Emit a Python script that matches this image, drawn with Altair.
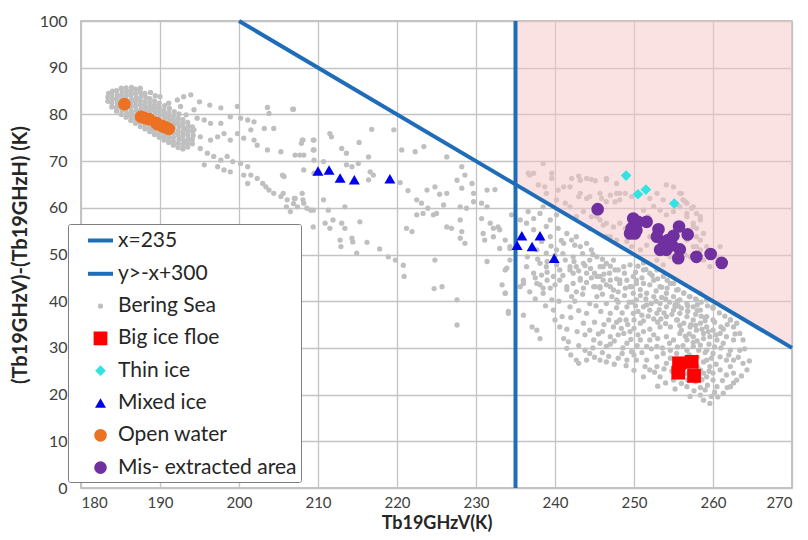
import altair as alt
import pandas as pd

# ---------------- data ----------------
series_order = ["x=235", "y>-x+300", "Bering Sea", "Big ice floe", "Thin ice",
                "Mixed ice", "Open water", "Mis- extracted area"]
series_colors = ["#1f6cb8", "#1f6cb8", "#bfbfbf", "#ff0000", "#33e3e3",
                 "#0000f0", "#ec7122", "#7030a0"]
LINE_SYMBOL = "M-1,-0.16H1V0.16H-1Z"
series_shapes = [LINE_SYMBOL, LINE_SYMBOL, "circle", "square", "diamond",
                 "triangle-up", "circle", "circle"]
series_sizes = [625, 625, 28, 190, 115, 120, 160, 160]

threshold_x = 235       # x = 235
line_intercept = 300    # y = -x + 300

x_ticks = [180, 190, 200, 210, 220, 230, 240, 250, 260, 270]
y_ticks = [0, 10, 20, 30, 40, 50, 60, 70, 80, 90, 100]

open_water = [(185.5, 82.2), (187.6, 79.5), (188.1, 79.2), (188.6, 79.0), (189.5, 78.2),
              (189.7, 77.9), (190.3, 77.5), (190.6, 77.3), (191.1, 76.9)]

mixed_ice = [(210.0, 67.9), (211.4, 68.1), (212.8, 66.4), (214.6, 66.0), (219.1, 66.2),
             (235.8, 54.0), (238.1, 54.0), (235.2, 52.0), (237.1, 51.7), (239.9, 49.2)]

thin_ice = [(249.0, 66.9), (250.5, 62.9), (251.5, 63.9), (255.1, 60.9)]

big_ice_floe = [(255.7, 26.7), (257.3, 27.0), (255.6, 24.7), (257.6, 24.0)]

mis_extracted = [(245.4, 59.7), (249.9, 57.7), (250.5, 57.0), (251.6, 57.0), (249.7, 55.6),
                 (250.3, 55.2), (249.5, 54.5), (250.1, 54.5), (253.1, 55.4), (252.9, 53.8),
                 (255.7, 56.0), (256.8, 54.3), (255.0, 54.0), (254.3, 53.1), (253.7, 51.7),
                 (254.1, 51.0), (254.8, 52.0), (255.8, 51.1), (255.6, 49.2), (257.9, 49.5),
                 (259.7, 50.1), (261.1, 48.2), (253.3, 51.0)]

bering_blob = [
    (183.4, 82.8), (183.4, 83.7), (183.5, 84.5),
    (183.9, 81.6), (183.9, 82.5), (184.0, 83.4), (183.9, 84.3), (184.0, 85.0),
    (184.5, 80.7), (184.5, 81.5), (184.6, 82.4), (184.5, 83.3), (184.6, 84.1), (184.5, 85.1),
    (185.1, 80.0), (185.2, 80.9), (185.1, 81.5), (185.1, 83.0), (185.1, 83.9), (185.2, 84.8), (185.1, 85.6),
    (185.7, 79.4), (185.8, 80.2), (185.7, 81.0), (185.7, 83.2), (185.7, 84.0), (185.8, 84.9), (185.7, 85.7),
    (186.3, 78.7), (186.3, 79.6), (186.4, 80.6), (186.3, 81.4), (186.3, 82.3), (186.4, 83.2), (186.3, 84.1),
    (186.3, 85.0), (186.4, 85.8),
    (186.9, 78.1), (186.9, 79.0), (186.9, 79.9), (187.0, 80.9), (186.9, 81.8), (186.9, 82.7), (187.0, 83.6),
    (186.9, 84.5), (186.9, 85.4),
    (187.5, 77.4), (187.5, 78.3), (187.5, 80.4), (187.6, 81.2), (187.5, 82.1), (187.5, 83.0), (187.6, 83.9),
    (187.5, 84.8), (187.5, 85.6),
    (188.1, 76.9), (188.1, 77.6), (188.1, 78.4), (188.1, 80.0), (188.2, 80.9), (188.1, 81.8), (188.1, 82.7),
    (188.2, 83.6), (188.1, 84.5),
    (188.7, 76.3), (188.7, 77.1), (188.7, 77.9), (188.7, 79.8), (188.8, 80.8), (188.7, 81.6), (188.7, 82.5),
    (188.7, 83.4), (188.8, 84.7),
    (189.3, 75.7), (189.3, 76.5), (189.3, 77.3), (189.3, 79.4), (189.4, 80.3), (189.3, 81.2), (189.3, 82.0),
    (189.3, 82.9), (189.4, 84.0),
    (189.9, 75.1), (189.9, 75.9), (189.9, 76.7), (189.9, 78.9), (190.0, 79.8), (189.9, 80.6), (189.9, 81.5),
    (189.9, 82.4), (190.0, 83.8),
    (190.5, 74.5), (190.5, 75.4), (190.5, 76.2), (190.5, 78.4), (190.6, 79.2), (190.5, 80.1), (190.5, 80.9),
    (190.6, 81.9),
    (191.1, 74.0), (191.1, 74.8), (191.1, 75.6), (191.1, 77.8), (191.2, 78.6), (191.1, 79.5), (191.1, 80.4),
    (191.2, 81.3), (191.1, 82.4),
    (191.7, 73.4), (191.7, 74.2), (191.7, 75.1), (191.7, 76.0), (191.7, 77.0), (191.8, 77.9), (191.7, 78.8),
    (191.7, 79.7), (191.8, 80.6),
    (192.3, 72.9), (192.3, 73.8), (192.4, 74.7), (192.3, 75.6), (192.3, 76.5), (192.4, 77.4), (192.3, 78.3),
    (192.3, 79.2), (192.4, 80.1),
    (192.9, 72.6), (192.9, 73.5), (193.0, 74.4), (192.9, 75.3), (192.9, 76.2), (193.0, 77.1), (192.9, 78.0),
    (192.9, 78.9),
    (193.5, 73.0), (193.5, 73.9), (193.6, 74.8), (193.5, 75.7), (193.5, 76.6), (193.6, 77.5), (193.5, 78.3),
    (194.1, 73.7), (194.1, 74.6), (194.2, 75.5), (194.1, 76.4), (194.1, 77.3),
]

bering_trail = [
    (193.0, 83.8), (193.9, 84.2), (195.0, 82.7), (196.3, 82.0), (197.7, 81.4), (199.8, 81.7), (203.6, 81.5),
    (203.8, 80.2), (206.8, 81.1), (192.6, 81.7), (194.3, 81.0), (192.2, 83.1), (193.3, 79.9), (194.7, 79.2),
    (195.6, 78.8), (196.4, 78.1), (197.7, 78.1), (198.9, 79.5), (200.2, 79.2), (201.1, 78.8), (201.9, 78.4),
    (203.2, 77.0), (204.4, 77.0), (194.3, 76.7), (195.1, 75.2), (196.4, 74.5), (197.3, 75.2), (198.1, 75.9),
    (198.9, 74.5), (199.8, 75.9), (200.6, 74.9), (201.5, 76.7), (201.9, 74.5), (202.3, 73.4), (203.6, 72.4),
    (205.3, 72.0), (195.1, 72.7), (196.0, 71.7), (196.8, 71.0), (197.7, 70.2), (198.5, 71.0), (199.2, 69.9),
    (200.2, 69.5), (201.1, 68.8), (201.5, 67.0), (195.6, 69.2), (197.3, 68.8), (198.1, 68.1), (198.9, 67.7),
    (200.6, 67.0), (201.1, 65.2), (202.3, 66.3), (203.0, 65.2), (203.4, 64.5), (203.8, 63.8), (204.4, 63.1),
    (205.3, 62.4), (206.1, 61.7), (207.0, 62.0), (205.7, 66.7), (207.4, 60.2), (208.2, 61.0), (209.1, 59.5),
    (206.5, 59.2), (208.0, 74.5), (209.5, 74.5), (209.5, 72.4), (208.2, 71.3), (209.5, 70.2), (208.2, 68.1),
    (209.5, 67.4), (205.5, 67.0), (208.0, 63.1),
]

bering_middle = [
    (206.9, 81.1), (216.8, 76.8), (219.6, 76.7), (211.5, 75.9), (211.7, 75.2), (208.1, 74.5), (207.9, 73.8),
    (209.4, 74.5), (215.2, 74.0), (213.0, 72.7), (209.4, 72.4), (213.6, 71.7), (216.4, 70.9), (220.6, 72.4),
    (222.3, 72.0), (223.4, 73.1), (226.3, 70.9), (228.2, 68.8), (228.6, 67.0), (227.6, 65.9), (228.2, 64.2),
    (229.5, 65.2), (229.7, 63.1), (231.4, 63.8), (232.4, 63.9), (207.7, 71.3), (207.1, 71.3), (210.7, 69.9),
    (213.6, 69.2), (215.1, 69.5), (214.3, 68.8), (216.6, 67.7), (216.4, 66.0), (217.0, 67.0), (220.4, 65.4),
    (221.4, 63.7), (223.8, 63.8), (224.8, 64.5), (225.4, 62.9), (226.3, 63.1), (222.5, 61.7), (223.1, 61.0),
    (223.9, 59.9), (222.5, 58.5), (223.3, 58.8), (224.6, 58.5), (225.0, 58.8), (225.9, 60.6), (228.0, 60.2),
    (228.8, 59.9), (226.3, 55.9), (226.9, 55.6), (228.0, 57.4), (228.2, 54.9), (228.0, 53.5), (228.6, 52.4),
    (229.7, 61.3), (230.7, 61.0), (231.4, 60.2), (230.7, 57.7), (231.8, 56.7), (232.2, 55.6), (232.8, 55.9),
    (230.9, 54.5), (231.1, 53.1), (232.2, 53.8), (233.0, 51.3), (234.3, 51.7), (234.5, 58.5), (234.3, 48.8),
    (231.4, 48.5), (233.9, 47.1), (233.3, 43.5), (233.7, 41.7), (234.1, 37.4), (227.6, 40.3), (227.6, 34.9),
    (224.7, 42.7), (225.7, 43.1), (220.8, 47.7), (220.9, 45.3), (219.8, 48.8), (218.9, 49.5), (217.8, 51.2),
    (216.2, 52.6), (214.4, 52.7), (214.3, 53.5), (212.9, 51.7), (212.8, 53.1), (214.9, 50.3), (211.5, 55.6),
    (210.9, 56.7), (211.9, 57.4), (213.0, 56.7), (213.4, 55.6), (209.4, 55.9), (210.7, 61.7), (211.3, 59.5),
    (209.4, 59.5), (208.6, 59.9), (208.1, 61.7), (207.1, 62.0), (206.9, 60.9), (205.6, 63.1), (206.0, 60.2),
    (213.4, 60.2), (215.3, 57.0), (224.8, 48.8), (221.2, 55.6), (221.9, 54.9),
]

bering_pink = [
    (238.5, 69.5), (236.6, 67.4), (237.3, 67.4), (239.6, 66.3), (242.1, 66.3), (243.2, 65.9), (244.0, 66.3),
    (244.6, 66.1), (246.5, 66.0), (237.9, 64.9), (238.7, 64.5), (240.4, 63.8), (241.9, 64.5), (241.3, 61.0),
    (243.0, 62.4), (244.0, 62.0), (245.7, 63.1), (247.0, 62.7), (247.8, 63.1), (248.9, 63.1), (246.5, 61.3),
    (247.6, 61.3), (248.2, 61.7), (243.6, 59.2), (244.6, 58.1), (245.7, 57.4), (246.5, 56.7), (247.4, 55.9),
    (248.2, 56.7), (248.9, 55.6), (247.0, 53.8), (247.8, 53.1), (249.1, 52.8), (249.7, 51.7), (250.8, 51.0),
    (251.6, 52.0), (252.5, 60.3), (253.3, 59.5), (254.1, 58.5), (255.0, 59.2), (255.8, 60.2), (256.7, 61.0),
    (257.3, 59.9), (257.9, 58.8), (258.4, 57.4), (257.5, 56.7), (256.7, 58.1), (256.0, 63.1), (256.5, 61.3),
    (252.9, 63.1), (253.7, 61.7), (252.0, 62.0), (251.2, 59.5), (251.8, 58.1), (252.0, 53.8), (252.9, 48.8),
    (253.7, 47.8), (254.6, 49.5), (256.5, 49.9), (258.4, 53.1), (259.2, 51.7), (258.8, 48.8), (259.6, 47.4),
    (260.5, 49.5), (260.9, 51.7), (257.5, 51.7), (258.4, 51.0), (258.8, 54.5), (257.9, 55.6),
    (236.8, 67.0), (239.6, 67.4), (243.0, 66.8), (245.1, 65.8), (246.5, 66.3), (247.8, 65.2), (241.1, 64.5),
    (243.2, 63.1), (244.4, 62.4), (245.9, 62.0), (248.2, 63.1), (249.7, 62.4), (251.6, 63.8), (254.1, 64.9),
    (255.0, 64.5), (255.8, 63.1), (256.2, 61.7), (257.5, 60.2), (258.4, 58.1), (257.5, 56.0), (256.7, 58.8),
    (240.2, 61.7), (238.9, 63.1), (241.9, 60.2), (242.7, 58.1), (245.3, 58.1), (246.1, 56.3), (244.4, 55.6),
    (246.5, 53.8), (256.7, 53.1), (257.9, 53.8), (257.9, 51.7), (255.8, 50.2), (257.1, 49.5),
]

bering_mass = [
    (233.0, 55.3), (233.7, 53.1), (234.3, 51.3), (235.6, 57.4), (236.4, 56.7), (237.3, 57.7), (238.1, 58.8),
    (238.5, 60.2), (236.6, 59.2), (237.3, 55.3), (238.9, 56.0), (239.4, 57.4), (240.2, 58.5), (240.4, 55.6),
    (239.4, 53.8), (238.3, 52.8), (237.7, 51.0), (238.9, 50.3), (240.2, 51.0), (241.1, 52.4), (241.5, 54.5),
    (242.1, 53.1), (242.7, 53.8), (243.2, 51.7), (244.0, 52.4), (244.6, 51.0), (242.3, 49.5), (241.3, 48.8),
    (240.6, 46.7), (241.9, 46.7), (242.7, 47.4), (243.6, 48.1), (244.4, 48.8), (245.3, 49.5), (245.7, 47.4),
    (246.5, 48.1), (247.4, 48.8), (248.0, 46.7), (246.9, 46.0), (246.1, 44.5), (245.3, 45.3), (244.0, 46.0),
    (243.2, 44.5), (242.3, 43.8), (241.5, 43.1), (240.6, 44.5), (239.8, 45.3), (238.9, 47.4), (238.1, 48.1),
    (237.3, 46.0), (236.4, 47.4), (236.0, 44.5), (235.6, 43.1), (237.7, 43.8), (238.5, 42.8), (243.6, 42.8),
    (244.9, 43.1), (245.7, 42.8), (247.0, 43.1), (248.2, 43.8), (249.1, 44.5), (249.9, 45.3), (248.9, 42.8),
    (249.7, 43.1), (250.3, 43.8),
    (250.5, 47.5), (251.5, 46.8), (252.3, 45.5), (253.0, 44.8), (251.0, 45.0), (252.0, 43.5), (253.5, 43.0),
    (254.2, 44.5), (255.0, 43.8), (255.6, 42.5), (256.3, 41.8), (257.0, 41.0), (257.8, 40.5), (258.5, 39.8),
    (259.3, 39.0), (260.0, 38.5), (260.8, 37.5), (261.5, 36.8), (262.2, 36.0), (263.0, 35.3), (254.0, 40.5),
    (255.5, 40.0), (256.8, 39.0), (258.0, 38.0), (259.0, 36.5), (260.2, 35.5), (261.3, 34.0),
    (233.7, 46.7), (233.7, 41.7), (234.1, 37.8), (236.0, 43.8), (236.0, 37.0), (237.1, 34.5), (237.7, 33.8),
    (238.1, 32.0), (238.3, 45.6), (238.1, 43.5), (238.5, 41.7), (239.4, 42.8), (239.6, 40.3), (239.8, 38.1),
    (240.0, 36.0), (240.9, 36.7), (240.6, 34.5), (241.1, 32.0), (241.7, 31.3), (241.5, 29.9), (242.7, 27.4),
    (243.0, 26.7), (241.9, 47.4), (242.3, 46.0), (243.2, 44.9), (242.7, 42.0), (242.1, 41.0), (241.9, 38.8),
    (244.0, 37.4), (243.6, 35.3), (244.4, 33.8), (243.8, 32.8), (244.9, 31.7), (245.7, 31.0), (244.4, 39.5),
    (245.3, 41.0), (245.1, 43.1), (245.7, 45.3), (246.1, 47.4), (245.7, 27.4), (246.5, 30.3), (247.0, 32.4),
    (247.4, 34.5), (247.0, 37.4), (246.5, 39.5), (247.8, 40.3), (247.4, 42.4), (248.2, 44.5), (247.6, 46.7),
    (248.7, 47.4), (248.2, 36.0), (248.7, 33.1), (249.1, 31.0), (249.7, 29.2), (250.3, 27.4), (251.6, 27.4),
    (252.9, 28.1), (254.1, 26.7), (253.3, 23.8), (255.0, 23.1), (256.0, 22.4), (256.7, 21.7), (257.1, 19.6),
    (258.4, 19.9), (258.8, 18.8), (259.6, 18.1), (249.1, 38.8), (249.9, 37.4), (250.8, 35.3), (251.2, 33.5),
    (252.0, 31.7), (252.9, 30.3), (253.7, 28.8), (254.6, 29.5), (255.4, 28.8), (256.7, 29.5), (257.5, 30.3),
    (258.4, 30.6), (259.2, 29.5), (260.0, 28.8), (260.9, 28.1), (261.7, 27.4), (262.2, 26.0), (262.6, 24.6),
    (259.2, 27.4), (259.6, 26.0), (260.0, 24.6), (260.0, 23.1), (260.5, 21.7), (258.8, 24.6), (258.4, 25.3),
    (260.9, 25.3), (261.7, 24.2), (262.6, 27.4), (263.4, 29.5), (263.8, 26.7), (264.3, 25.3), (262.2, 29.5),
    (261.3, 31.0), (260.5, 31.7), (259.6, 32.4), (258.8, 33.1), (257.9, 33.8), (257.1, 34.5), (256.3, 35.3),
    (255.4, 36.0), (254.1, 36.7), (252.9, 37.4), (252.0, 38.1), (251.2, 38.8), (250.3, 40.3), (249.9, 41.7),
    (249.5, 43.1), (250.3, 44.5), (251.2, 43.8), (251.6, 41.7), (252.5, 41.0), (253.3, 39.5), (254.1, 38.8),
    (255.0, 38.1), (255.8, 37.4), (256.7, 36.7), (257.5, 36.0), (258.4, 35.3), (259.2, 34.5), (260.0, 33.8),
    (260.9, 33.1), (261.7, 32.4), (262.6, 31.7), (258.4, 38.1), (259.2, 36.7), (260.0, 36.0), (257.5, 38.8),
    (256.7, 39.5), (255.8, 40.3), (255.0, 41.0), (254.1, 41.7), (253.3, 43.1), (252.5, 44.5), (252.0, 46.0),
    (251.2, 46.7), (252.9, 46.7), (253.7, 45.3), (254.6, 43.8), (255.4, 42.4), (256.3, 41.7), (257.1, 41.0),
    (257.9, 40.3), (250.8, 31.7), (251.6, 30.3), (252.5, 32.8), (253.3, 34.5), (254.1, 32.4), (255.0, 31.7),
    (255.8, 33.1), (256.7, 31.7), (257.5, 32.4), (262.6, 34.5), (263.4, 33.1), (263.8, 31.7), (262.2, 21.7),
    (263.0, 23.1), (261.3, 20.3), (252.0, 25.3), (251.2, 23.8), (252.9, 26.0), (262.2, 36.0), (260.0, 38.8),
    (259.2, 40.3), (258.4, 41.7), (247.0, 44.5), (245.7, 43.1), (244.4, 28.8), (244.0, 27.4), (249.1, 27.4),
    (248.0, 27.8),
    (244.5, 47.0), (245.0, 46.0), (246.5, 43.5), (247.2, 41.0), (248.0, 42.0), (248.8, 41.2), (249.4, 39.8),
    (250.2, 39.0), (250.8, 42.5), (251.5, 40.5), (252.2, 39.5), (252.8, 42.2), (253.5, 40.8), (254.5, 39.8),
    (255.2, 39.2), (256.0, 38.5), (256.8, 37.8), (257.8, 37.2), (258.5, 36.8), (259.0, 35.8), (253.8, 37.5),
    (252.5, 36.2), (251.0, 37.0), (250.0, 36.0), (249.2, 35.0), (248.4, 34.2), (247.8, 38.6), (246.8, 36.0),
    (245.8, 37.8), (245.0, 35.5), (246.0, 33.5), (247.5, 31.5), (249.5, 33.5), (250.5, 32.8), (253.0, 35.5),
    (254.6, 34.5), (255.8, 34.8), (257.0, 33.0), (258.0, 31.5), (258.8, 32.0), (259.5, 30.8), (256.2, 30.5),
    (257.0, 28.5), (258.0, 28.0), (258.8, 27.0), (259.8, 27.8), (259.5, 25.0), (258.6, 23.2), (259.3, 22.0),
    (260.2, 20.5), (257.8, 22.8), (256.5, 24.5), (258.0, 26.0), (259.0, 21.0),
]

bering_fill = [
    (236.5, 49.5), (237.8, 49.0), (239.0, 48.5), (240.0, 49.8), (241.0, 50.2), (239.5, 51.8), (240.8, 53.0),
    (242.5, 52.0), (243.5, 50.2), (244.8, 50.0), (246.0, 49.0), (247.0, 47.5), (244.0, 44.0), (243.0, 46.5),
    (241.0, 45.5), (240.0, 43.5), (239.0, 44.5), (237.5, 45.0), (236.8, 42.0), (237.5, 40.5), (238.8, 39.0),
    (240.5, 40.0), (241.5, 42.5), (242.5, 40.0), (243.5, 41.5), (243.0, 38.0), (242.0, 36.5), (241.5, 34.0),
    (242.8, 33.5), (243.0, 30.5), (242.0, 28.5), (243.8, 29.5), (244.8, 30.0), (245.5, 33.0), (246.2, 35.0),
    (245.2, 39.0), (246.0, 41.5), (247.8, 35.5), (248.5, 37.5), (248.0, 39.8), (249.0, 36.0), (250.0, 34.2),
    (251.2, 35.8), (252.0, 34.0), (251.8, 36.8), (253.2, 38.2), (254.0, 35.2), (254.8, 37.2), (255.5, 36.0),
    (256.0, 33.8), (257.2, 35.0), (256.5, 32.5), (257.8, 34.8), (258.6, 34.0), (259.4, 33.5), (260.4, 32.8),
    (261.0, 34.5), (261.8, 35.0), (262.8, 33.0), (261.0, 30.0), (262.0, 28.5), (260.2, 30.2), (259.0, 29.0),
    (258.2, 29.5), (257.5, 31.2), (255.5, 30.2), (254.5, 31.0), (253.6, 30.0), (253.0, 32.0), (252.2, 29.8),
    (251.0, 29.0), (250.4, 30.5), (249.6, 31.8), (248.6, 30.0), (248.0, 32.8), (247.0, 30.8), (246.0, 29.0),
    (245.0, 28.0), (246.8, 28.2), (248.5, 28.8), (250.0, 28.5), (251.4, 26.0), (252.6, 24.8), (253.8, 25.5),
    (254.6, 27.8), (255.8, 27.4), (257.0, 26.0), (258.2, 24.0), (259.2, 23.8), (260.4, 26.5), (261.2, 23.0),
    (260.6, 19.5), (259.8, 19.6), (258.4, 21.5), (257.6, 20.8), (256.8, 23.2), (254.8, 25.0), (255.2, 21.2),
    (254.0, 22.5), (253.0, 21.8), (250.0, 25.2), (249.0, 26.2), (247.5, 26.5), (246.5, 27.0), (263.2, 28.0),
    (264.0, 29.8), (263.6, 24.0), (262.6, 22.5), (261.8, 21.5), (264.6, 27.2),
    (249.5, 47.8), (250.2, 46.2), (251.2, 48.2), (248.8, 46.0), (247.8, 44.8), (246.2, 45.8), (244.6, 45.0),
    (243.8, 47.6), (242.4, 48.5), (240.2, 47.8), (239.0, 46.2), (252.8, 40.0), (254.2, 42.8), (255.6, 39.0),
    (253.4, 36.2), (250.5, 37.8), (249.8, 39.8), (251.6, 39.2), (256.8, 38.0), (258.0, 39.2), (255.2, 38.8),
    (250.8, 41.2),
]

# ---------------- tables built from the lists ----------------
def to_df(pairs, name):
    return pd.DataFrame({"x": [p[0] for p in pairs], "y": [p[1] for p in pairs], "series": name})

gray_df = pd.concat([to_df(bering_blob, "Bering Sea"), to_df(bering_trail, "Bering Sea"),
                     to_df(bering_middle, "Bering Sea"), to_df(bering_pink, "Bering Sea"),
                     to_df(bering_mass, "Bering Sea"), to_df(bering_fill, "Bering Sea")],
                    ignore_index=True)
color_df = pd.concat([to_df(big_ice_floe, "Big ice floe"), to_df(thin_ice, "Thin ice"),
                      to_df(mixed_ice, "Mixed ice"), to_df(open_water, "Open water"),
                      to_df(mis_extracted, "Mis- extracted area")], ignore_index=True)

x_min, x_max = x_ticks[0], x_ticks[-1]
y_min, y_max = y_ticks[0], y_ticks[-1]
zone_df = pd.DataFrame({"x": [threshold_x, x_max],
                        "y": [line_intercept - threshold_x, line_intercept - x_max],
                        "y2": [y_max, y_max]})
diag_df = pd.DataFrame({"x": [line_intercept - y_max, x_max],
                        "y": [y_max, line_intercept - x_max]})
vline_df = pd.DataFrame({"x": [threshold_x]})

FONT = "Lato, sans-serif"
LINE_BLUE = series_colors[0]

x_scale = alt.Scale(domain=[x_min, x_max], nice=False, zero=False)
y_scale = alt.Scale(domain=[y_min, y_max], nice=False, zero=False)

x_enc = alt.X("x:Q", scale=x_scale,
              axis=alt.Axis(values=x_ticks, title="Tb19GHzV(K)", grid=True, ticks=False,
                            domain=False, labelPadding=7, titlePadding=4,
                            labelFontSize=15, titleFontSize=18))
y_enc = alt.Y("y:Q", scale=y_scale,
              axis=alt.Axis(values=y_ticks, title="(Tb19GHzV)-(Tb19GHzH) (K)", grid=True,
                            ticks=False, domain=False, labelPadding=14, titlePadding=9,
                            labelFontSize=16, titleFontSize=20))

legend = alt.Legend(
    title=None, orient="none", legendX=-13, legendY=203,
    fillColor="white", strokeColor="#7f7f7f", padding=4, cornerRadius=2,
    symbolOffset=16, labelOffset=5, rowPadding=10.3, labelLimit=400,
    labelFont=FONT, labelFontSize=21, labelColor="#262626",
    symbolStrokeWidth=0, symbolOpacity=1,
)
color_enc = alt.Color("series:N", scale=alt.Scale(domain=series_order, range=series_colors),
                      legend=legend)
shape_enc = alt.Shape("series:N", scale=alt.Scale(domain=series_order, range=series_shapes),
                      legend=legend)
size_enc = alt.Size("series:N", scale=alt.Scale(type="ordinal", domain=series_order,
                                                range=series_sizes),
                    legend=legend)

gray_layer = alt.Chart(gray_df).mark_point(filled=True, opacity=1, strokeWidth=0).encode(
    x=x_enc, y=y_enc, color=color_enc, shape=shape_enc, size=size_enc)

zone_layer = alt.Chart(zone_df).mark_area(color="#f7c6c6", opacity=0.5).encode(
    x="x:Q", y="y:Q", y2="y2:Q")

diag_layer = alt.Chart(diag_df).mark_line(color=LINE_BLUE, strokeWidth=4).encode(
    x="x:Q", y="y:Q")

vline_layer = alt.Chart(vline_df).mark_rule(color=LINE_BLUE, strokeWidth=4).encode(x="x:Q")

color_layer = alt.Chart(color_df).mark_point(filled=True, opacity=1, strokeWidth=0).encode(
    x="x:Q", y="y:Q", color=color_enc, shape=shape_enc, size=size_enc)

chart = alt.layer(gray_layer, zone_layer, diag_layer, vline_layer, color_layer).properties(
    width=711, height=467,
    padding={"left": 81, "top": 21, "right": 16, "bottom": 52},
    autosize=alt.AutoSizeParams(type="none"),
    background="white",
).configure_view(
    stroke="#b0b0b0", strokeWidth=1.5
).configure_axis(
    gridColor="#c4c4c4", gridWidth=1.3, labelFont=FONT, labelColor="#404040",
    titleFont=FONT, titleFontWeight="bold", titleColor="#262626"
)

chart.save("out.html", embed_options={"renderer": "svg", "actions": False})
